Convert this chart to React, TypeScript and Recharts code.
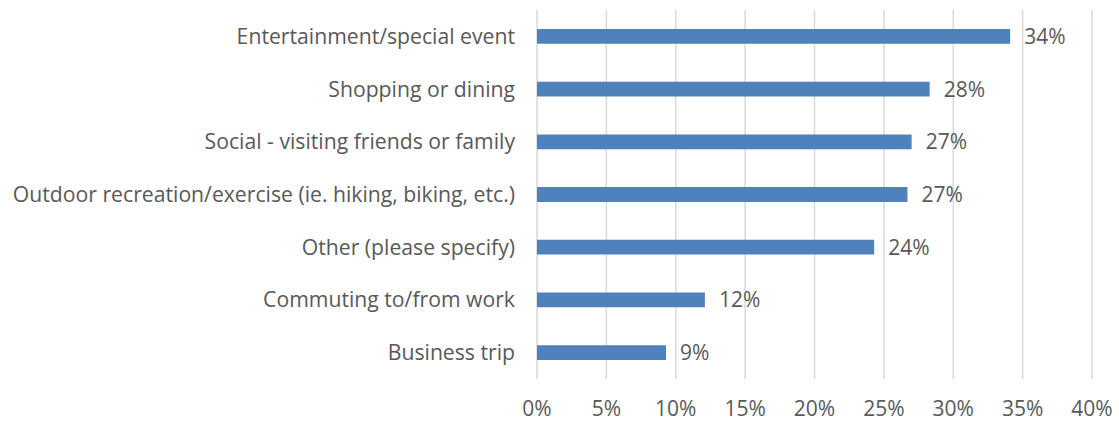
import { BarChart, Bar, XAxis, YAxis, CartesianGrid, LabelList } from 'recharts'

const categories = [
  'Entertainment/special event',
  'Shopping or dining',
  'Social - visiting friends or family',
  'Outdoor recreation/exercise (ie. hiking, biking, etc.)',
  'Other (please specify)',
  'Commuting to/from work',
  'Business trip',
]
const shares = [34.1, 28.3, 27.0, 26.7, 24.3, 12.1, 9.3]
const xTicks = [0, 5, 10, 15, 20, 25, 30, 35, 40]

const FONT = '"Open Sans", Lato, sans-serif'
const TEXT = '#595959'

export default function App() {
  const data = categories.map((name, i) => ({ name, value: shares[i] }))

  return (
    <div style={{ position: 'absolute', left: 0, top: 0, fontFamily: FONT }}>
      <BarChart
        width={1119}
        height={422}
        data={data}
        layout="vertical"
        margin={{ top: 10, right: 27, left: 0, bottom: 0 }}
        barCategoryGap="64%"
      >
        <CartesianGrid horizontal={false} stroke="#D9D9D9" strokeWidth={1.5} />
        <XAxis
          type="number"
          domain={[0, 40]}
          ticks={xTicks}
          tickFormatter={(v: number) => `${v}%`}
          axisLine={false}
          tickLine={false}
          tickSize={0}
          tickMargin={22}
          height={43}
          tick={{ fill: TEXT, fontSize: 21, fontFamily: FONT }}
        />
        <YAxis
          type="category"
          dataKey="name"
          width={537}
          axisLine={false}
          tickLine={false}
          tickSize={0}
          tickMargin={22}
          tick={{ fill: TEXT, fontSize: 21.2, fontFamily: FONT }}
        />
        <Bar dataKey="value" fill="#4F81BD" isAnimationActive={false}>
          <LabelList
            dataKey="value"
            position="right"
            offset={14}
            formatter={(v: any) => `${Math.round(Number(v))}%`}
            style={{ fill: TEXT, fontSize: 21, fontFamily: FONT }}
          />
        </Bar>
      </BarChart>
    </div>
  )
}
